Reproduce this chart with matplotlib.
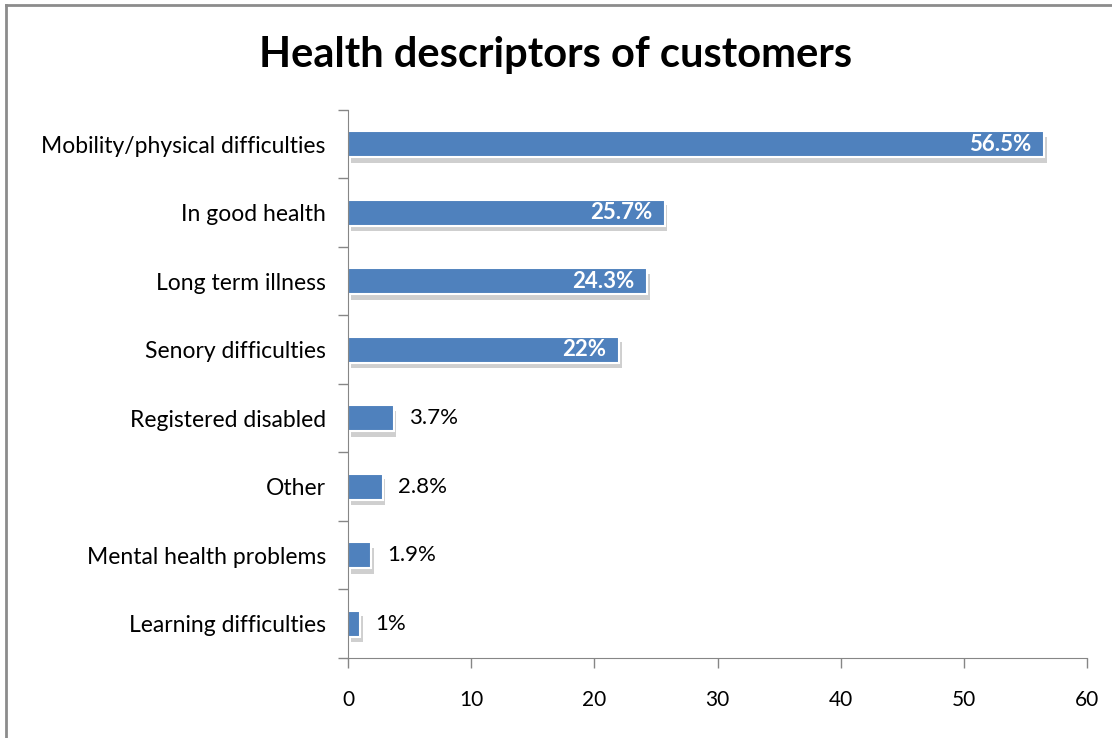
import matplotlib.pyplot as plt
import matplotlib.patheffects as pe
from matplotlib.lines import Line2D

categorias = ["Mobility/physical difficulties", "In good health", "Long term illness",
              "Senory difficulties", "Registered disabled", "Other",
              "Mental health problems", "Learning difficulties"]
valores = [56.5, 25.7, 24.3, 22, 3.7, 2.8, 1.9, 1]
etiquetas = ["56.5%", "25.7%", "24.3%", "22%", "3.7%", "2.8%", "1.9%", "1%"]
xticks = [0, 10, 20, 30, 40, 50, 60]

plt.rcParams['font.family'] = ['Lato', 'DejaVu Sans']

fig = plt.figure(figsize=(11.12, 7.38), dpi=100)
ax = fig.add_axes([0.313, 0.1084, 0.6645, 0.7426])

# marco del grafico (solo se ven el borde izquierdo y el superior)
fig.add_artist(Line2D([6 / 1112, 6 / 1112], [0, 1 - 5 / 738], color="#8c8c8c", lw=2))
fig.add_artist(Line2D([6 / 1112, 1], [1 - 5 / 738, 1 - 5 / 738], color="#8c8c8c", lw=2))

n = len(categorias)
pos = [n - 1 - i for i in range(n)]
barras = ax.barh(pos, valores, height=0.38, color="#4F81BD", edgecolor="white", linewidth=1.5)
for b in barras:
    b.set_path_effects([pe.SimplePatchShadow(offset=(2, -4), shadow_rgbFace="#a8a8a8", alpha=0.55),
                        pe.Normal()])

for p, v, t in zip(pos, valores, etiquetas):
    if v > 10:
        ax.annotate(t, (v, p), xytext=(-9, 0), textcoords="offset points",
                    ha="right", va="center", color="white", fontsize=16, fontweight="bold")
    else:
        ax.annotate(t, (v, p), xytext=(11, 0), textcoords="offset points",
                    ha="left", va="center", color="black", fontsize=16)

ax.set_xlim(0, 60)
ax.set_ylim(-0.5, n - 0.5)
ax.set_xticks(xticks)
ax.set_xticklabels([str(x) for x in xticks], fontsize=15)
ax.set_yticks(pos)
ax.set_yticklabels(categorias, fontsize=16.5)
ax.set_yticks([i - 0.5 for i in range(n + 1)], minor=True)
ax.tick_params(axis="y", which="major", length=0, pad=16)
ax.tick_params(axis="y", which="minor", length=7, color="#868686", width=1)
ax.tick_params(axis="x", length=7, color="#868686", width=1, pad=16)

for s in ["top", "right"]:
    ax.spines[s].set_visible(False)
for s in ["left", "bottom"]:
    ax.spines[s].set_color("#868686")

fig.text(0.5, 0.925, "Health descriptors of customers", ha="center", va="center",
         fontsize=30, fontweight="bold")

fig.savefig("out.png", dpi=100)
